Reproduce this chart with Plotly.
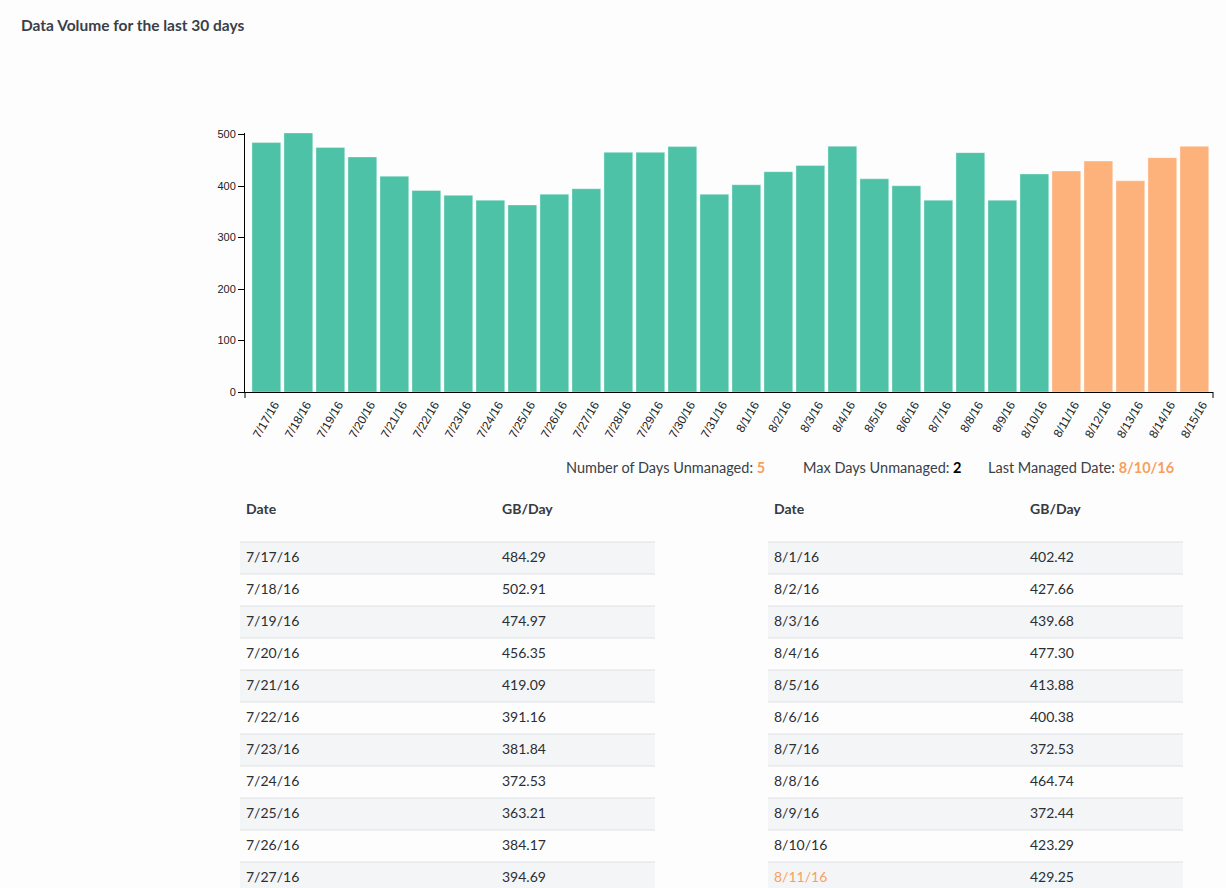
import plotly.graph_objects as go

# Daily data volume (GB/day) for the last 30 days
dates = ['7/17/16', '7/18/16', '7/19/16', '7/20/16', '7/21/16', '7/22/16', '7/23/16',
         '7/24/16', '7/25/16', '7/26/16', '7/27/16', '7/28/16', '7/29/16', '7/30/16',
         '7/31/16', '8/1/16', '8/2/16', '8/3/16', '8/4/16', '8/5/16', '8/6/16', '8/7/16',
         '8/8/16', '8/9/16', '8/10/16', '8/11/16', '8/12/16', '8/13/16', '8/14/16', '8/15/16']
gb_per_day = [484.29, 502.91, 474.97, 456.35, 419.09, 391.16, 381.84, 372.53, 363.21, 384.17,
              394.69, 465.40, 465.40, 476.50, 384.00, 402.42, 427.66, 439.68, 477.30, 413.88,
              400.38, 372.53, 464.74, 372.44, 423.29, 429.25, 448.50, 410.20, 455.00, 477.00]
managed = [True] * 25 + [False] * 5
max_days_unmanaged = 2

y_ticks = [0, 100, 200, 300, 400, 500]

TEAL = '#4DC2A6'
ORANGE = '#FDB27C'
ORANGE_TXT = '#F99F5E'
DARK = '#3A4048'
W, H = 1226, 888

unmanaged_count = sum(1 for m in managed if not m)
last_managed = [d for d, m in zip(dates, managed) if m][-1]

fig = go.Figure()

fig.add_trace(go.Bar(
    x=dates, y=gb_per_day,
    marker=dict(color=[TEAL if m else ORANGE for m in managed],
                line=dict(width=1, color='rgba(255,255,255,0.35)')),
    hoverinfo='x+y', xaxis='x', yaxis='y',
))

# Two side-by-side tables: first 15 days on the left, next 15 on the right
half = len(dates) // 2
tables = [(dates[:half], gb_per_day[:half], managed[:half], 0),
          (dates[half:], gb_per_day[half:], managed[half:], 528)]

shapes = []
TBL_X0, TBL_X1, COL1, COL2 = 240, 655, 246, 502
for tdates, tvals, tman, off in tables:
    rows = list(range(len(tdates)))
    for r in rows:
        if r % 2 == 0:
            shapes.append(dict(type='rect', xref='x2', yref='y2',
                               x0=TBL_X0 + off, x1=TBL_X1 + off, y0=r - 0.5, y1=r + 0.5,
                               fillcolor='#F4F5F7', line=dict(width=0), layer='below'))
        shapes.append(dict(type='line', xref='x2', yref='y2',
                           x0=TBL_X0 + off, x1=TBL_X1 + off, y0=r - 0.5, y1=r - 0.5,
                           line=dict(color='#DFE1E5', width=1), layer='below'))
    # header
    fig.add_trace(go.Scatter(
        x=[COL1 + off, COL2 + off], y=[-1.5, -1.5], mode='text',
        text=['<b>Date</b>', '<b>GB/Day</b>'], textposition='middle right',
        textfont=dict(family='Lato', size=14, color='#333A42'),
        xaxis='x2', yaxis='y2', hoverinfo='skip'))
    fig.add_trace(go.Scatter(
        x=[COL1 + off] * len(rows), y=rows, mode='text', text=tdates,
        textposition='middle right',
        textfont=dict(family='Lato', size=14,
                      color=['#2B2F33' if m else ORANGE_TXT for m in tman]),
        xaxis='x2', yaxis='y2', hoverinfo='skip'))
    fig.add_trace(go.Scatter(
        x=[COL2 + off] * len(rows), y=rows, mode='text',
        text=[f'{v:.2f}' for v in tvals], textposition='middle right',
        textfont=dict(family='Lato', size=14, color='#2B2F33'),
        xaxis='x2', yaxis='y2', hoverinfo='skip'))

# outer end ticks of the x-axis domain
for xd in (0, 1):
    shapes.append(dict(type='line', xref='x domain', yref='y domain',
                       x0=xd, x1=xd, y0=0, y1=-6 / 259,
                       line=dict(color='#000000', width=1)))

INFO_Y = 1 - 468 / H
info_font = dict(family='Lato', size=14.5, color=DARK)
annotations = [
    dict(text='<b>Data Volume for the last 30 days</b>', x=19 / W, y=1 - 25 / H,
         xref='paper', yref='paper', xanchor='left', yanchor='middle', showarrow=False,
         font=dict(family='Lato', size=15.5, color=DARK)),
    dict(text=f'Number of Days Unmanaged: <b><span style="color:{ORANGE_TXT}">{unmanaged_count}</span></b>',
         x=564 / W, y=INFO_Y, xref='paper', yref='paper', xanchor='left',
         yanchor='middle', showarrow=False, font=info_font),
    dict(text=f'Max Days Unmanaged: <b><span style="color:#000000">{max_days_unmanaged}</span></b>',
         x=801 / W, y=INFO_Y, xref='paper', yref='paper', xanchor='left',
         yanchor='middle', showarrow=False, font=info_font),
    dict(text=f'Last Managed Date: <b><span style="color:{ORANGE_TXT}">{last_managed}</span></b>',
         x=986 / W, y=INFO_Y, xref='paper', yref='paper', xanchor='left',
         yanchor='middle', showarrow=False, font=info_font),
]

step = 32.0
fig.update_layout(
    width=W, height=H,
    margin=dict(l=0, r=0, t=0, b=0, pad=0, autoexpand=False),
    paper_bgcolor='#FDFDFD', plot_bgcolor='rgba(0,0,0,0)',
    showlegend=False, bargap=0.1,
    xaxis=dict(domain=[245 / W, 1213 / W], type='category',
               range=[-0.5 - 5.35 / step, len(dates) - 0.5 + 2.65 / step],
               showline=True, linecolor='#000000', linewidth=1, ticks='',
               tickangle=-60, ticklabelshift=8, ticklabelstandoff=0,
               showgrid=False, zeroline=False, fixedrange=True, automargin=False,
               tickfont=dict(family='Liberation Sans, Arial', size=12, color='#222222')),
    yaxis=dict(domain=[1 - 392 / H, 1 - 133 / H], range=[0, max(gb_per_day)],
               tickvals=y_ticks, showline=True, linecolor='#000000', linewidth=1,
               ticks='outside', ticklen=6, tickcolor='#000000', showgrid=False,
               zeroline=False, fixedrange=True, automargin=False,
               tickfont=dict(family='Liberation Sans, Arial', size=11, color='#222222')),
    xaxis2=dict(domain=[0, 1], range=[0, W], anchor='y2', visible=False,
                fixedrange=True, automargin=False),
    yaxis2=dict(domain=[0, 1 - 490 / H], range=[(888 - 558) / step, (490 - 558) / step],
                anchor='x2', visible=False, fixedrange=True, automargin=False),
    shapes=shapes, annotations=annotations,
)

fig.write_html('out.html')
